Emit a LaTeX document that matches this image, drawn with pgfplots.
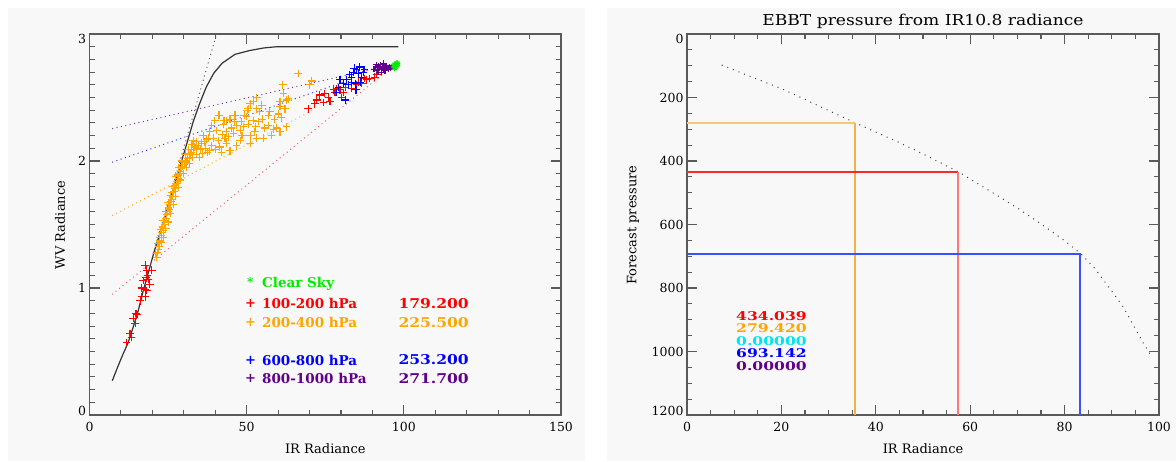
\documentclass[border=0pt]{standalone}
\usepackage{fontspec}
\setmainfont{DejaVu Serif}
\newfontfamily\legfont{DejaVu Serif Bold}
\newfontfamily\legnum[FakeStretch=1.15]{DejaVu Serif Bold}
\newfontfamily\numfont[FakeStretch=1.3]{DejaVu Serif Bold}
\newfontfamily\titfont[FakeStretch=1.14]{DejaVu Serif}
\usepackage{pgfplots}
\pgfplotsset{compat=1.18}

\definecolor{panel}{RGB}{248,248,248}
\definecolor{idlorange}{RGB}{255,165,0}
\definecolor{idlpurple}{RGB}{96,0,140}
\definecolor{idlgreen}{RGB}{0,235,0}
\definecolor{idlcyan}{RGB}{0,230,240}
\definecolor{frame}{RGB}{90,90,90}

\pgfplotsset{
  idl/.style={
    scale only axis, height=381pt,
    axis line style={frame, line width=1.3pt},
    every tick/.style={frame, line width=1.1pt},
    tick align=inside,
    major tick length=10pt, minor tick length=5pt,
    /pgf/number format/assume math mode=true,
    tick label style={font=\fontsize{12.5}{14}\selectfont},
    xticklabel style={yshift=-4pt},
  },
  dots/.style={line width=1pt, dash pattern=on 1pt off 3.5pt},
  cross/.style={only marks, mark=+, mark size=3.8pt, mark options={line width=1.1pt}},
}

\begin{document}
\begin{tikzpicture}
\useasboundingbox (0,0) rectangle (1176pt,461pt);
\fill[white] (0,0) rectangle (1176pt,461pt);
\fill[panel] (8pt,0) rectangle (585pt,453pt);
\fill[panel] (607pt,0) rectangle (1176pt,453pt);

% left panel: WV against IR radiance
\begin{axis}[idl, at={(89.5pt,46pt)}, anchor=south west, width=471.5pt,
  xmin=0, xmax=150, ymin=0, ymax=3,
  xtick={0,50,100,150}, minor x tick num=4,
  ytick={0,1,2,3}, minor y tick num=9,
  yticklabels={\raisebox{0pt}[0pt][0pt]{0},1,2,\raisebox{-9.3pt}[0pt][0pt]{3}}]
\addplot[black!80, line width=1.2pt] coordinates {
  (7.25,0.27) (9,0.38) (10.5,0.47) (12.3,0.57) (14,0.70) (15.5,0.82)
  (17,0.97) (18.7,1.12) (20.5,1.28) (22.4,1.43) (24,1.56) (25.6,1.69)
  (28.3,1.92) (30.4,2.09) (33.0,2.31) (35.0,2.45) (37.1,2.58) (39.5,2.69)
  (42.2,2.77) (46.3,2.84) (51,2.87) (55.4,2.89) (59.6,2.90) (98.3,2.90)};
\addplot[black!65, dots] coordinates {(20.3,1.27) (40.3,2.99)};
\addplot[idlpurple!80, dots] coordinates {(7.2,2.255) (91.3,2.73)};
\addplot[blue!80, dots] coordinates {(7.2,1.99) (84,2.65)};
\addplot[idlorange!90, dots] coordinates {(7.2,1.57) (71,2.40)};
\addplot[red!65, dots] coordinates {(7.2,0.95) (93.7,2.69)};

% 200-400 hPa
\addplot[cross, idlorange] coordinates {
  (21.4,1.24) (21.6,1.28) (21.9,1.30) (22.1,1.33) (22.4,1.37) (22.3,1.40)
  (22.8,1.41) (23.0,1.44) (23.5,1.45) (23.2,1.48) (23.8,1.50) (24.0,1.53)
  (24.4,1.55) (24.6,1.58) (24.9,1.60) (25.1,1.63) (25.4,1.62) (25.6,1.66)
  (25.9,1.68) (26.1,1.70) (26.5,1.72) (26.3,1.75) (26.8,1.76) (27.2,1.78)
  (27.0,1.81) (27.6,1.82) (27.9,1.84) (28.3,1.86) (28.1,1.89) (28.6,1.90)
  (29.0,1.92) (29.3,1.94) (29.6,1.96) (30.1,1.97) (30.5,1.99) (30.9,2.00)
  (31.3,2.02) (31.7,2.03) (32.0,2.06) (32.5,2.07) (33.0,2.09) (33.4,2.11)
  (34.0,2.10) (34.6,2.12) (35.3,2.09) (36.0,2.06) (36.8,2.10) (37.5,2.07)
  (38.3,2.08) (33.0,2.16) (34.1,2.15) (35.7,2.14) (36.2,2.20) (37.3,2.17)
  (37.8,2.18) (38.3,2.23) (39.4,2.18) (39.9,2.32) (40.5,2.24) (41.0,2.16)
  (41.5,2.11) (42.6,2.29) (42.8,2.32) (43.1,2.18) (43.6,2.23) (43.6,2.14)
  (43.6,2.32) (44.7,2.33) (44.7,2.08) (45.2,2.26) (46.3,2.36) (46.9,2.28)
  (46.8,2.12) (47.9,2.24) (47.9,2.16) (48.4,2.31) (50.0,2.35) (50.2,2.40)
  (50.5,2.29) (50.5,2.41) (51.1,2.45) (51.1,2.20) (51.1,2.14) (52.1,2.47)
  (52.1,2.32) (52.6,2.23) (53.2,2.50) (53.2,2.41) (53.2,2.18) (53.7,2.31)
  (54.2,2.39) (55.3,2.18) (55.8,2.26) (56.9,2.36) (57.4,2.39) (57.9,2.20)
  (58.5,2.25) (59.5,2.26) (60.1,2.37) (60.6,2.43) (60.6,2.47) (60.6,2.23)
  (61.5,2.60) (61.7,2.53) (62.2,2.41) (62.7,2.48) (62.7,2.27) (63.3,2.49)
  (66.4,2.69) (70.1,2.60) (70.7,2.63)
  (21.0,1.27) (22.9,1.36) (21.8,1.35) (23.6,1.40) (22.6,1.46) (24.3,1.47)
  (23.4,1.53) (25.0,1.52) (24.2,1.60) (25.8,1.59) (25.0,1.67) (26.6,1.66)
  (25.8,1.73) (27.4,1.72) (26.6,1.80) (28.2,1.79) (27.5,1.88) (29.0,1.85)
  (28.3,1.95) (29.8,1.90) (29.4,2.00) (30.8,1.95) (30.5,2.05) (31.8,1.98)
  (31.5,2.09) (32.8,2.03) (32.6,2.13) (34.0,2.05) (35.0,2.03) (36.5,2.15)
  (38.9,2.12) (40.2,2.09) (42.0,2.07) (42.2,2.21) (44.2,2.19) (45.8,2.22)
  (46.0,2.31) (49.0,2.27) (49.2,2.36) (41.2,2.36) (38.8,2.28) (55.0,2.33)
  (57.0,2.28) (58.9,2.33) (48.5,2.20) (54.8,2.44) (61.0,2.34) (52.9,2.27)};
% 100-200 hPa
\addplot[cross, red] coordinates {
  (11.8,0.57) (12.9,0.64) (13.4,0.61) (13.9,0.76) (14.5,0.72) (14.8,0.80)
  (15.2,0.79) (16.1,0.90) (16.6,0.93) (17.7,0.93) (16.6,1.00) (17.7,0.99)
  (18.2,0.98) (17.1,1.06) (18.7,1.07) (19.2,1.03) (17.7,1.18) (18.2,1.14)
  (19.8,1.14) (18.4,1.10) (18.0,1.08)
  (69.6,2.41) (71.7,2.45) (72.3,2.48) (73.3,2.52) (74.4,2.46) (74.9,2.53)
  (76.0,2.50) (76.5,2.47) (77.6,2.56) (78.6,2.57) (80.2,2.50) (80.8,2.54)
  (81.3,2.58) (83.4,2.57) (85.0,2.60) (86.6,2.61) (88.2,2.64) (89.2,2.65)
  (90.8,2.66) (91.4,2.68) (85.5,2.62) (87.6,2.65) (79.7,2.56) (78.1,2.54)};
% 600-800 hPa
\addplot[cross, blue] coordinates {
  (81.3,2.48) (84.5,2.56) (85.0,2.56) (84.5,2.61) (78.6,2.54) (79.2,2.58)
  (80.8,2.61) (81.8,2.64) (83.4,2.66) (83.9,2.70) (85.5,2.69) (86.6,2.66)
  (87.1,2.70) (85.0,2.72) (82.3,2.60) (79.7,2.64) (83.4,2.62) (86.1,2.62)
  (82.8,2.68) (84.2,2.73) (86.0,2.74) (87.5,2.72)};
% 800-1000 hPa
\addplot[cross, idlpurple, mark size=2.8pt] coordinates {
  (90.5,2.72) (91.0,2.74) (91.5,2.71) (91.8,2.75) (92.2,2.73) (92.5,2.76)
  (92.8,2.72) (93.1,2.74) (93.4,2.76) (93.7,2.72) (94.0,2.74) (94.3,2.73)
  (94.6,2.75) (95.0,2.72) (95.3,2.74) (95.7,2.73) (92.0,2.70) (93.0,2.70)
  (94.0,2.71) (91.2,2.76) (93.6,2.77) (96.0,2.74)};
% clear sky
\addplot[only marks, mark=asterisk, mark size=3pt, idlgreen, mark options={line width=1.2pt}] coordinates {
  (96.8,2.75) (97.2,2.76) (97.6,2.75) (98.0,2.76) (97.4,2.74) (97.8,2.77) (97.0,2.73)};
\end{axis}

% right panel: EBBT pressure
\begin{axis}[idl, at={(687pt,46pt)}, anchor=south west, width=472pt,
  xmin=0, xmax=100, ymin=0, ymax=1200, y dir=reverse,
  xtick={0,20,...,100}, minor x tick num=3,
  ytick={0,200,...,1200}, minor y tick num=3,
  yticklabels={\raisebox{-9.3pt}[0pt][0pt]{0},200,400,600,800,1000,\raisebox{0pt}[0pt][0pt]{1200}}]
\addplot[black!75, line width=1pt, dash pattern=on 1pt off 5pt] coordinates {
  (7.35,98) (15,143) (20,172) (25,206) (30,241) (35.6,279.4) (40,309)
  (45,342) (50,378) (57.5,434) (65,502) (70,548) (75,598) (80,651)
  (83.5,693) (86.4,738) (89,790) (92.4,859) (94.5,915) (96.7,974) (98.1,1008)};
\addplot[draw={rgb,255:red,245;green,200;blue,120}, line width=2pt] coordinates {(0,279.42) (35.6,279.42)};
\addplot[draw={rgb,255:red,240;green,180;blue,70}, line width=1.5pt] coordinates {(35.6,279.42) (35.6,1200)};
\addplot[draw={rgb,255:red,255;green,40;blue,40}, line width=1.5pt] coordinates {(0,434.039) (57.4,434.039)};
\addplot[draw={rgb,255:red,255;green,120;blue,120}, line width=1.5pt] coordinates {(57.4,434.039) (57.4,1200)};
\addplot[draw={rgb,255:red,60;green,80;blue,255}, line width=1.5pt] coordinates {(0,693.142) (83.3,693.142) (83.3,1200)};
\end{axis}

% titles and labels
\node[font=\titfont\fontsize{15}{17}\selectfont] at (923pt,440pt) {EBBT pressure from IR10.8 radiance};
\node[font=\fontsize{13}{15}\selectfont] at (325.3pt,12pt) {IR Radiance};
\node[font=\fontsize{13}{15}\selectfont] at (923pt,12pt) {IR Radiance};
\node[font=\fontsize{13}{15}\selectfont, rotate=90] at (60pt,236pt) {WV Radiance};
\node[font=\fontsize{13}{15}\selectfont, rotate=90] at (633pt,236pt) {Forecast pressure};

% legend of the left panel
\begin{scope}[every node/.style={font=\legfont\fontsize{13.5}{16}\selectfont, anchor=west, inner sep=0pt}]
\node[idlgreen, font=\legfont\fontsize{12}{13}\selectfont] at (247pt,179pt) {*};
\node[idlgreen] at (262pt,177pt) {Clear Sky};
\node[red, font=\legfont\fontsize{13}{14}\selectfont] at (245pt,157.7pt) {+};
\node[red] at (262pt,157.7pt) {100-200 hPa};
\node[idlorange, font=\legfont\fontsize{13}{14}\selectfont] at (245pt,138.7pt) {+};
\node[idlorange] at (262pt,138.7pt) {200-400 hPa};
\node[blue, font=\legfont\fontsize{13}{14}\selectfont] at (245pt,101pt) {+};
\node[blue] at (262pt,101pt) {600-800 hPa};
\node[idlpurple, font=\legfont\fontsize{13}{14}\selectfont] at (245pt,82.7pt) {+};
\node[idlpurple] at (262pt,82.7pt) {800-1000 hPa};
\end{scope}
\begin{scope}[every node/.style={font=\legnum\fontsize{13.5}{16}\selectfont, anchor=west, inner sep=0pt}]
\node[red] at (398.3pt,157.7pt) {179.200};
\node[idlorange] at (398.3pt,138.7pt) {225.500};
\node[blue] at (398.3pt,101pt) {253.200};
\node[idlpurple] at (398.3pt,82.7pt) {271.700};
\end{scope}

% values of the right panel
\begin{scope}[every node/.style={font=\numfont\fontsize{12}{13}\selectfont, anchor=west, inner sep=0pt}]
\node[red] at (736pt,145pt) {434.039};
\node[idlorange] at (736pt,132.5pt) {279.420};
\node[idlcyan] at (736pt,120pt) {0.00000};
\node[blue] at (736pt,107.5pt) {693.142};
\node[idlpurple] at (736pt,95pt) {0.00000};
\end{scope}
\end{tikzpicture}
\end{document}
